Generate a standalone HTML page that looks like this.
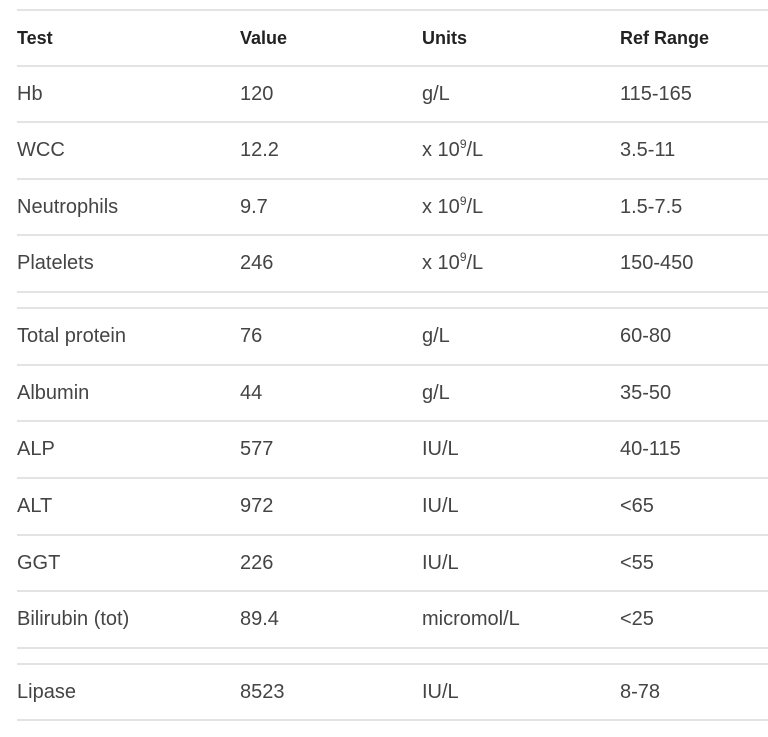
<!DOCTYPE html>
<html><head><meta charset="utf-8"><style>
body{margin:0;width:768px;height:737px;background:#fff;font-family:"Liberation Sans",sans-serif;position:relative;overflow:hidden}
.l{position:absolute;left:17px;right:0;height:2px;background:#e3e3e3}
.r{position:absolute;left:0;height:56px;line-height:56px;font-size:20px;color:#444;width:768px}
.r span{position:absolute;top:0;white-space:nowrap}
.h{font-weight:bold;color:#222;font-size:18px}
.a{left:17px}.b{left:240px}.c{left:422px}.d{left:620px}
sup{font-size:12px;line-height:0;vertical-align:8px}
</style></head><body>
<div class="l" style="top:9px"></div>
<div class="l" style="top:65px"></div>
<div class="l" style="top:121px"></div>
<div class="l" style="top:178px"></div>
<div class="l" style="top:234px"></div>
<div class="l" style="top:291px"></div>
<div class="l" style="top:307px"></div>
<div class="l" style="top:364px"></div>
<div class="l" style="top:420px"></div>
<div class="l" style="top:477px"></div>
<div class="l" style="top:534px"></div>
<div class="l" style="top:590px"></div>
<div class="l" style="top:647px"></div>
<div class="l" style="top:663px"></div>
<div class="l" style="top:719px"></div>

<div class="r h" style="top:10px"><span class="a">Test</span><span class="b">Value</span><span class="c">Units</span><span class="d">Ref Range</span></div>
<div class="r" style="top:66px"><span class="a">Hb</span><span class="b">120</span><span class="c">g/L</span><span class="d">115-165</span></div>
<div class="r" style="top:122px"><span class="a">WCC</span><span class="b">12.2</span><span class="c">x 10<sup>9</sup>/L</span><span class="d">3.5-11</span></div>
<div class="r" style="top:179px"><span class="a">Neutrophils</span><span class="b">9.7</span><span class="c">x 10<sup>9</sup>/L</span><span class="d">1.5-7.5</span></div>
<div class="r" style="top:235px"><span class="a">Platelets</span><span class="b">246</span><span class="c">x 10<sup>9</sup>/L</span><span class="d">150-450</span></div>
<div class="r" style="top:308px"><span class="a">Total protein</span><span class="b">76</span><span class="c">g/L</span><span class="d">60-80</span></div>
<div class="r" style="top:365px"><span class="a">Albumin</span><span class="b">44</span><span class="c">g/L</span><span class="d">35-50</span></div>
<div class="r" style="top:421px"><span class="a">ALP</span><span class="b">577</span><span class="c">IU/L</span><span class="d">40-115</span></div>
<div class="r" style="top:478px"><span class="a">ALT</span><span class="b">972</span><span class="c">IU/L</span><span class="d">&lt;65</span></div>
<div class="r" style="top:535px"><span class="a">GGT</span><span class="b">226</span><span class="c">IU/L</span><span class="d">&lt;55</span></div>
<div class="r" style="top:591px"><span class="a">Bilirubin (tot)</span><span class="b">89.4</span><span class="c">micromol/L</span><span class="d">&lt;25</span></div>
<div class="r" style="top:664px"><span class="a">Lipase</span><span class="b">8523</span><span class="c">IU/L</span><span class="d">8-78</span></div>
</body></html>
